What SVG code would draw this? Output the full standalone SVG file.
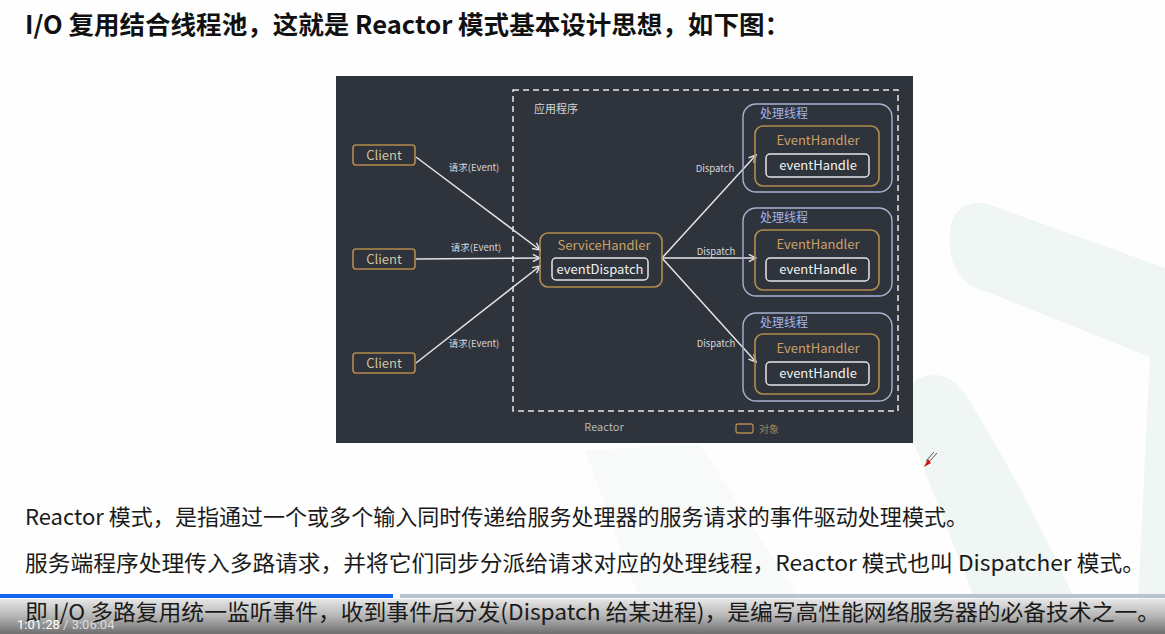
<svg xmlns="http://www.w3.org/2000/svg" width="1165" height="634" viewBox="0 0 1165 634">
<defs>
<style>
.cjk{font-family:"Noto Sans CJK SC","Liberation Sans",sans-serif}
.head{font-size:25px;font-weight:bold;fill:#111}
.body{font-size:22px;fill:#1a1a1a}
.obj{fill:none;stroke:#b38c4e;stroke-width:1.6}
.inner{fill:none;stroke:#e6e6e6;stroke-width:1.5}
.thread{fill:none;stroke:#a9b3cf;stroke-width:1.4}
.gold{fill:#c8a266;font-size:13px}
.client{fill:#d3c29c;font-size:13px}
.white{fill:#f2f2f2;font-size:13px}
.lbl{fill:#d8d8d8;font-size:9.5px}
.blue{fill:#a6b6e6;font-size:12px}
.conn{stroke:#e4e4e4;stroke-width:1.5;fill:none;marker-end:url(#ah)}
</style>
<marker id="ah" viewBox="0 0 10 10" refX="9" refY="5" markerWidth="9" markerHeight="9" orient="auto" markerUnits="userSpaceOnUse">
<polyline points="1,1 9,5 1,9" fill="none" stroke="#e4e4e4" stroke-width="1.6"/>
</marker>
<linearGradient id="bar" x1="0" y1="0" x2="0" y2="1">
<stop offset="0" stop-color="#e6e6e6"/>
<stop offset="0.5" stop-color="#b4b4b4"/>
<stop offset="1" stop-color="#6e6e6e"/>
</linearGradient>
</defs>
<rect x="0" y="0" width="1165" height="634" fill="#fdfefd"/>
<g id="bgshapes" fill="#f0f6f3">
<path d="M985,203 Q945,200 950,250 Q955,285 990,293 L1150,357 L1138,600 L1165,600 L1165,268 Z"/>
<path d="M930,375 Q900,380 905,420 L975,600 L1075,600 Q1030,500 975,410 Q955,372 930,375 Z"/>
<path d="M585,450 L700,445 L800,600 L640,600 Z" opacity="0.4"/>
</g>
<text class="cjk head" x="25" y="34" textLength="765" lengthAdjust="spacingAndGlyphs">I/O 复用结合线程池，这就是 Reactor 模式基本设计思想，如下图：</text>
<g id="panel">
<rect x="336" y="76" width="577" height="367" fill="#2f333c"/>
<rect x="513" y="90" width="385" height="321" fill="none" stroke="#e8e8e8" stroke-width="1.5" stroke-dasharray="6,4"/>
<text class="cjk" x="534" y="113" fill="#d6d6d6" font-size="11">应用程序</text>
<text class="cjk" x="604" y="431" fill="#b8b8b8" font-size="11" text-anchor="middle">Reactor</text>
<rect x="736" y="424" width="17" height="9" rx="2" fill="none" stroke="#b38c4e" stroke-width="1.3"/>
<text class="cjk" x="759" y="433" fill="#a08860" font-size="10">对象</text>
</g>
<g id="connectors">
<line class="conn" x1="416" y1="157" x2="540" y2="250"/>
<line class="conn" x1="416" y1="259" x2="540" y2="258"/>
<line class="conn" x1="416" y1="363" x2="540" y2="266"/>
<line class="conn" x1="662" y1="258" x2="756" y2="155"/>
<line class="conn" x1="662" y1="258" x2="756" y2="258"/>
<line class="conn" x1="662" y1="258" x2="756" y2="362"/>
<text class="cjk lbl" x="474" y="171" text-anchor="middle">请求(Event)</text>
<text class="cjk lbl" x="476" y="251" text-anchor="middle">请求(Event)</text>
<text class="cjk lbl" x="474" y="347" text-anchor="middle">请求(Event)</text>
<text class="cjk lbl" x="715" y="172" text-anchor="middle">Dispatch</text>
<text class="cjk lbl" x="716" y="255" text-anchor="middle">Dispatch</text>
<text class="cjk lbl" x="716" y="347" text-anchor="middle">Dispatch</text>
</g>
<g id="client1"><rect class="obj" x="353" y="145" width="62" height="20" rx="3"/><text class="cjk client" x="384" y="160" text-anchor="middle">Client</text></g>
<g id="client2"><rect class="obj" x="353" y="249" width="62" height="20" rx="3"/><text class="cjk client" x="384" y="264" text-anchor="middle">Client</text></g>
<g id="client3"><rect class="obj" x="353" y="353" width="62" height="20" rx="3"/><text class="cjk client" x="384" y="368" text-anchor="middle">Client</text></g>
<g id="servicehandler">
<rect class="obj" x="540" y="233" width="122" height="54" rx="8"/>
<text class="cjk gold" x="604" y="250" text-anchor="middle">ServiceHandler</text>
<rect class="inner" x="552" y="258" width="96" height="22" rx="4"/>
<text class="cjk white" x="600" y="274" text-anchor="middle">eventDispatch</text>
</g>
<g id="thread1">
<rect class="thread" x="743" y="104" width="149" height="88" rx="13"/>
<text class="cjk blue" x="760" y="118">处理线程</text>
<rect class="obj" x="755" y="126" width="124" height="60" rx="8"/>
<text class="cjk gold" x="818" y="145" text-anchor="middle">EventHandler</text>
<rect class="inner" x="766" y="154" width="103" height="23" rx="4"/>
<text class="cjk white" x="818" y="170" text-anchor="middle">eventHandle</text>
</g>
<g id="thread2">
<rect class="thread" x="743" y="208" width="149" height="88" rx="13"/>
<text class="cjk blue" x="760" y="222">处理线程</text>
<rect class="obj" x="755" y="230" width="124" height="60" rx="8"/>
<text class="cjk gold" x="818" y="249" text-anchor="middle">EventHandler</text>
<rect class="inner" x="766" y="258" width="103" height="23" rx="4"/>
<text class="cjk white" x="818" y="274" text-anchor="middle">eventHandle</text>
</g>
<g id="thread3">
<rect class="thread" x="743" y="313" width="149" height="88" rx="13"/>
<text class="cjk blue" x="760" y="327">处理线程</text>
<rect class="obj" x="755" y="334" width="124" height="60" rx="8"/>
<text class="cjk gold" x="818" y="353" text-anchor="middle">EventHandler</text>
<rect class="inner" x="766" y="362" width="103" height="23" rx="4"/>
<text class="cjk white" x="818" y="378" text-anchor="middle">eventHandle</text>
</g>
<g id="pen">
<line x1="937" y1="453" x2="928" y2="463" stroke="#555" stroke-width="1"/>
<line x1="934" y1="452" x2="926" y2="461" stroke="#555" stroke-width="1"/>
<path d="M924,467 L928,459 L931,463 Z" fill="#d21010"/>
</g>
<text class="cjk body" x="25" y="525" textLength="943" lengthAdjust="spacingAndGlyphs">Reactor 模式，是指通过一个或多个输入同时传递给服务处理器的服务请求的事件驱动处理模式。</text>
<text class="cjk body" x="25" y="571" textLength="1120" lengthAdjust="spacingAndGlyphs">服务端程序处理传入多路请求，并将它们同步分派给请求对应的处理线程，Reactor 模式也叫 Dispatcher 模式。</text>
<g id="videobar">
<rect x="0" y="599" width="1165" height="35" fill="url(#bar)"/>
<rect x="0" y="594" width="393" height="4" fill="#1463f3"/>
<rect x="400" y="594" width="765" height="4" fill="#b9c2cf"/>
<rect x="393" y="593" width="5" height="6" fill="#ffffff"/>
</g>
<text class="cjk body" x="25" y="620" textLength="1135" lengthAdjust="spacingAndGlyphs">即 I/O 多路复用统一监听事件，收到事件后分发(Dispatch 给某进程)，是编写高性能网络服务器的必备技术之一。</text>
<text x="17" y="629" font-family="Roboto,'Liberation Sans',sans-serif" font-size="13"><tspan fill="#ffffff">1:01:28</tspan><tspan fill="#dddddd"> / 3:06:04</tspan></text>
</svg>
